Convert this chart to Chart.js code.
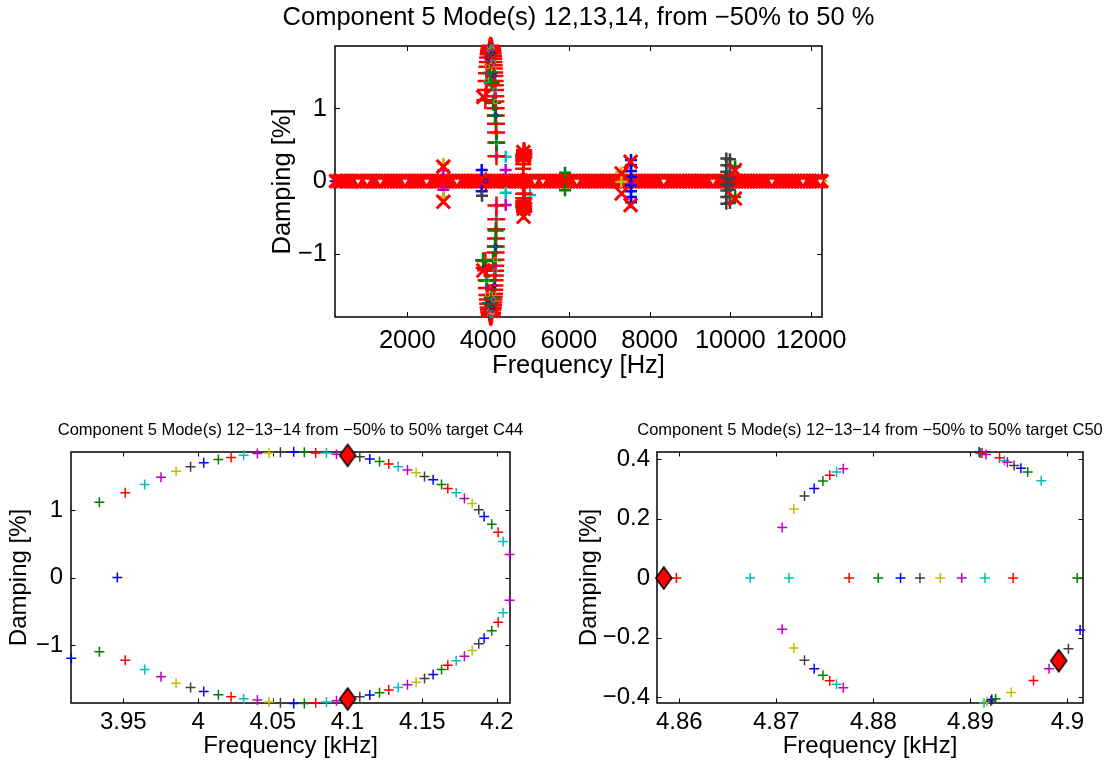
<!DOCTYPE html>
<html>
<head>
<meta charset="utf-8">
<script src="https://cdn.jsdelivr.net/npm/chart.js@4.4.1/dist/chart.umd.min.js"></script>
<style>
  html, body { margin: 0; padding: 0; background: #fff; }
  body { width: 1107px; height: 765px; position: relative; overflow: hidden; }
  canvas { position: absolute; }
</style>
</head>
<body>
<canvas id="topChart" width="700" height="400" style="left:200px;top:0px"></canvas>
<canvas id="c44Chart" width="545" height="355" style="left:0px;top:410px"></canvas>
<canvas id="c50Chart" width="547" height="355" style="left:560px;top:410px"></canvas>
<script>
// MATLAB default colour order: b g r c m y k
const colorCycle = ['#0000ff', '#008000', '#ff0000', '#00bfbf', '#bf00bf', '#bfbf00', '#404040'];

// ---- target C44 (kHz / %), one point per sweep step ----
const c44FreqUpper = [3.946, 3.934, 3.9513, 3.9643, 3.9752, 3.9853, 3.995, 4.0038, 4.0136, 4.0221,
  4.0305, 4.0397, 4.0475, 4.0551, 4.064, 4.0711, 4.0787, 4.0859, 4.0926, 4.1001,
  4.1082, 4.1149, 4.1214, 4.1276, 4.1339, 4.1401, 4.1459, 4.1515, 4.1573, 4.1629,
  4.1671, 4.1727, 4.1782, 4.1834, 4.1878, 4.1914, 4.1965, 4.2008, 4.2041, 4.2084];
const c44DampUpper = [0.0, 1.115, 1.255, 1.378, 1.486, 1.575, 1.64, 1.70, 1.748, 1.78,
  1.81, 1.837, 1.847, 1.856, 1.862, 1.856, 1.847, 1.847, 1.827, 1.818,
  1.788, 1.758, 1.719, 1.684, 1.64, 1.595, 1.551, 1.496, 1.447, 1.378,
  1.319, 1.255, 1.17, 1.096, 1.003, 0.904, 0.79, 0.671, 0.533, 0.341];
const c44FreqLower = [3.9152, 3.934, 3.9513, 3.9643, 3.9752, 3.9853, 3.995, 4.0038, 4.0136, 4.0221,
  4.0305, 4.0397, 4.0475, 4.0551, 4.064, 4.0711, 4.0787, 4.0859, 4.0926, 4.1001,
  4.1082, 4.1149, 4.1214, 4.1276, 4.1339, 4.1401, 4.1459, 4.1515, 4.1573, 4.1629,
  4.1671, 4.1727, 4.1782, 4.1834, 4.1878, 4.1914, 4.1965, 4.2008, 4.2041, 4.2084];
const c44DampLower = [-1.195, -1.10, -1.225, -1.363, -1.471, -1.566, -1.63, -1.689, -1.738, -1.768,
  -1.797, -1.817, -1.847, -1.857, -1.867, -1.867, -1.857, -1.847, -1.827, -1.81,
  -1.768, -1.743, -1.709, -1.669, -1.63, -1.59, -1.551, -1.496, -1.437, -1.363,
  -1.299, -1.235, -1.166, -1.081, -0.983, -0.899, -0.79, -0.662, -0.523, -0.336];
const c44TargetFreq = [4.1001, 4.1001];
const c44TargetDamp = [1.81, -1.80];

// ---- target C50 (kHz / %), step gives the colour ----
const c50Freq = [4.8597, 4.8673, 4.8713, 4.8775, 4.8805, 4.8828, 4.8848, 4.8869, 4.8891, 4.8915, 4.8944, 4.9010,
  4.8706, 4.8718, 4.8729, 4.8739, 4.8748, 4.8755, 4.8762, 4.8769,
  4.8706, 4.8718, 4.8729, 4.8739, 4.8748, 4.8755, 4.8762, 4.8769,
  4.8909, 4.8910, 4.8912, 4.8916, 4.8930, 4.8935, 4.8938, 4.8945, 4.8952, 4.8959, 4.8973,
  4.8914, 4.8917, 4.8921, 4.8922, 4.8926, 4.8942, 4.8965, 4.8981, 4.9001, 4.9013];
const c50Damp = [0, 0, 0, 0, 0, 0, 0, 0, 0, 0, 0, 0,
  0.170, 0.232, 0.276, 0.301, 0.326, 0.345, 0.356, 0.367,
  -0.172, -0.235, -0.276, -0.305, -0.327, -0.345, -0.357, -0.369,
  0.4235, 0.42, 0.42, 0.415, 0.404, 0.395, 0.389, 0.378, 0.369, 0.356, 0.327,
  -0.42, -0.415, -0.413, -0.408, -0.406, -0.385, -0.344, -0.305, -0.238, -0.175];
const c50Step = [2, 3, 3, 2, 1, 0, 6, 5, 4, 3, 2, 1,
  4, 5, 6, 0, 1, 2, 3, 4,
  4, 5, 6, 0, 1, 2, 3, 4,
  0, 1, 2, 4, 2, 3, 4, 6, 0, 1, 3,
  3, 5, 6, 0, 1, 5, 2, 4, 6, 0];
const c50TargetFreq = [4.8584, 4.8991];
const c50TargetDamp = [0, -0.278];

// ---- overview (Hz / %) ----
// undamped modes along the zero line
const topBandFreq = [240, 315, 395, 470, 540, 620, 700, 770, 845, 915, 990, 1065, 1140, 1220, 1300,
  1370, 1445, 1515, 1590, 1665, 1735, 1810, 1890, 1960, 2030, 2110, 2185, 2255, 2330, 2400, 2470,
  2550, 2625, 2700, 2770, 2840, 2905, 2985, 3060, 3135, 3210, 3280, 3350, 3420, 3495, 3570, 3650,
  3720, 3790, 3865, 3940, 4015, 4090, 4160, 4225, 4300, 4380, 4450, 4520, 4595, 4670, 4740, 4815,
  4890, 4960, 5035, 5110, 5180, 5255, 5330, 5400, 5470, 5545, 5620, 5690, 5765, 5840, 5910, 5985,
  6060, 6130, 6200, 6270, 6345, 6420, 6490, 6565, 6640, 6710, 6785, 6860, 6930, 7000, 7075, 7150,
  7225, 7295, 7370, 7440, 7510, 7585, 7660, 7730, 7805, 7880, 7950, 8025, 8100, 8170, 8245, 8315,
  8390, 8465, 8535, 8610, 8685, 8755, 8830, 8900, 8975, 9045, 9120, 9195, 9270, 9340, 9415, 9485,
  9560, 9630, 9705, 9780, 9855, 9925, 10000, 10070, 10145, 10215, 10290, 10360, 10435, 10510,
  10585, 10655, 10730, 10800, 10875, 10945, 11020, 11090, 11165, 11240, 11310, 11385, 11460,
  11530, 11605, 11675, 11750, 11820, 11895, 11970, 12045, 12115, 12185, 12250];
const topVeeFreq = [780, 1005, 1330, 1945, 2480, 3230, 5160, 5360, 6200, 8350, 9570, 11030, 11800, 12230];
const topPlusFreq = [215, 470, 620, 905, 1180, 1365, 1520, 1800, 2080, 2250, 2560, 2700, 3120, 3420,
  3580, 3760, 4470, 4610, 5020, 5230, 5470, 5760, 6050, 6330, 6480, 6640, 6930, 7080, 7220, 7660,
  7950, 8230, 8540, 8680, 8970, 9260, 9410, 9700, 10290, 10580, 10720, 11010, 11160, 11460, 11600,
  11890, 12040, 12270];
const topCrossFreq = [2893, 2893, 3884, 3884, 4874, 4874, 4880, 4880, 7309, 7309, 7530, 7530, 10113, 10113];
const topCrossDamp = [0.20, -0.285, 1.16, -1.23, 0.40, 0.34, -0.38, -0.49, 0.106, -0.17, 0.266, -0.33, 0.15, -0.24];
const topSideFreq = [2893, 2893, 2893, 2893, 3843, 3843, 3850, 4437, 4437, 4437, 4437, 5039, 5906, 5906,
  7300, 7300, 7540, 7540, 7540, 7540, 7540, 7540, 7540, 7540,
  9900, 9900, 9900, 9900, 9900, 9900, 9900, 9900, 9990, 9990, 9990, 9990, 9990, 9990, 9990, 9990, 10120, 10120];
const topSideDamp = [0.24, 0.15, -0.12, -0.22, 0.152, -0.138, -0.2, 0.335, -0.16, 0.152, -0.33, -0.19, 0.115, -0.124,
  0.12, -0.01, 0.29, 0.22, 0.14, 0.06, -0.06, -0.14, -0.22, -0.29,
  0.31, 0.22, 0.13, 0.05, -0.05, -0.13, -0.22, -0.31, 0.30, 0.21, 0.12, 0.04, -0.04, -0.12, -0.21, -0.30, 0.20, -0.22];
const topSideStep = [5, 4, 4, 5, 0, 0, 6, 3, 3, 4, 4, 3, 1, 1,
  5, 5, 0, 0, 0, 0, 0, 0, 0, 0,
  6, 6, 6, 6, 6, 6, 6, 6, 6, 6, 6, 6, 6, 6, 6, 6, 1, 1];
const topGreenFreq = [4049, 4091, 4124, 4173, 4215, 4190, 4173, 4124, 3876, 3970, 4091, 4049];
const topGreenDamp = [1.49, 1.35, 1.08, 0.90, 0.53, -0.68, -0.90, -1.09, -1.09, -1.37, -1.60, -1.68];

// ---- ticks ----
const topXTicks = [2000, 4000, 6000, 8000, 10000, 12000];
const topXLabels = ['2000', '4000', '6000', '8000', '10000', '12000'];
const topYTicks = [-1, 0, 1];
const topYLabels = ['\u22121', '0', '1'];
const c44XTicks = [3.95, 4, 4.05, 4.1, 4.15, 4.2];
const c44XLabels = ['3.95', '4', '4.05', '4.1', '4.15', '4.2'];
const c44YTicks = [-1, 0, 1];
const c44YLabels = ['\u22121', '0', '1'];
const c50XTicks = [4.86, 4.87, 4.88, 4.89, 4.9];
const c50XLabels = ['4.86', '4.87', '4.88', '4.89', '4.9'];
const c50YTicks = [-0.4, -0.2, 0, 0.2, 0.4];
const c50YLabels = ['\u22120.4', '\u22120.2', '0', '0.2', '0.4'];

const FONT = '"Liberation Sans", Arial, Helvetica, sans-serif';

// tall red diamond like MATLAB's 'd' marker
function makeDiamond(w, h) {
  const c = document.createElement('canvas');
  c.width = w + 4; c.height = h + 4;
  const g = c.getContext('2d');
  const cx = c.width / 2, cy = c.height / 2;
  g.beginPath();
  g.moveTo(cx, cy - h / 2);
  g.lineTo(cx + w / 2, cy);
  g.lineTo(cx, cy + h / 2);
  g.lineTo(cx - w / 2, cy);
  g.closePath();
  g.fillStyle = '#ff0000';
  g.fill();
  g.lineWidth = 1.5;
  g.strokeStyle = '#000';
  g.stroke();
  return c;
}
const diamond = makeDiamond(16, 22);

function scatterSet(xs, ys, style) {
  return Object.assign({
    data: xs.map((x, i) => ({ x: x, y: ys[i] })),
    showLine: false,
    clip: false,
    pointHoverRadius: 0
  }, style);
}

// box, inward ticks and title the MATLAB way
const matlabBox = {
  id: 'matlabBox',
  beforeDatasetsDraw(chart, args, opts) {
    const { ctx, chartArea: a, scales: { x, y } } = chart;
    ctx.save();
    ctx.strokeStyle = '#000';
    ctx.lineWidth = 1;
    ctx.beginPath();
    x.ticks.forEach(t => {
      const px = Math.round(x.getPixelForValue(t.value)) + 0.5;
      ctx.moveTo(px, a.bottom); ctx.lineTo(px, a.bottom - opts.tick);
      ctx.moveTo(px, a.top); ctx.lineTo(px, a.top + opts.tick);
    });
    y.ticks.forEach(t => {
      const py = Math.round(y.getPixelForValue(t.value)) + 0.5;
      ctx.moveTo(a.left, py); ctx.lineTo(a.left + opts.tick, py);
      ctx.moveTo(a.right, py); ctx.lineTo(a.right - opts.tick, py);
    });
    ctx.stroke();
    ctx.lineWidth = 1.5;
    ctx.strokeRect(a.left, a.top, a.right - a.left, a.bottom - a.top);
    ctx.restore();
  },
  afterDraw(chart, args, opts) {
    const { ctx, chartArea: a } = chart;
    ctx.save();
    ctx.font = opts.size + 'px ' + FONT;
    ctx.fillStyle = '#000';
    ctx.textAlign = 'center';
    ctx.textBaseline = 'middle';
    ctx.fillText(opts.text, (a.left + a.right) / 2, opts.y);
    ctx.restore();
  }
};

function buildOptions(cfg) {
  const tickFont = { family: FONT, size: cfg.fontSize, lineHeight: 1.2 };
  return {
    responsive: false,
    animation: false,
    devicePixelRatio: 1,
    events: [],
    layout: { padding: { top: cfg.padTop, right: cfg.padRight, left: 0, bottom: 0 } },
    plugins: {
      legend: { display: false },
      tooltip: { enabled: false },
      title: { display: false },
      matlabBox: { text: cfg.title, size: cfg.titleSize, y: cfg.titleY, tick: cfg.tickLen }
    },
    scales: {
      x: {
        type: 'linear',
        min: cfg.xMin, max: cfg.xMax,
        grid: { display: false, drawTicks: false },
        border: { display: false },
        afterBuildTicks: s => { s.ticks = cfg.xTicks.map(v => ({ value: v })); },
        afterFit: s => { s.height = cfg.xHeight; s.paddingLeft = 0; s.paddingRight = 0; },
        ticks: {
          autoSkip: false, maxRotation: 0, minRotation: 0,
          padding: cfg.xTickPad, color: '#000', font: tickFont,
          callback: (v, i) => cfg.xLabels[i]
        },
        title: {
          display: true, text: cfg.xTitle, color: '#000', font: tickFont,
          padding: { top: 0, bottom: cfg.xTitlePad }
        }
      },
      y: {
        type: 'linear',
        min: cfg.yMin, max: cfg.yMax,
        grid: { display: false, drawTicks: false },
        border: { display: false },
        afterBuildTicks: s => { s.ticks = cfg.yTicks.map(v => ({ value: v })); },
        afterFit: s => { s.width = cfg.yWidth; s.paddingTop = 0; s.paddingBottom = 0; },
        ticks: {
          autoSkip: false,
          padding: cfg.yTickPad, color: '#000', font: tickFont,
          callback: (v, i) => cfg.yLabels[i]
        },
        title: {
          display: true, text: 'Damping [%]', color: '#000', font: tickFont,
          padding: { top: cfg.yTitlePad, bottom: 0 }
        }
      }
    }
  };
}

function stackOrder(sets) {
  sets.forEach((d, i) => { d.order = -i; });
  return sets;
}

// ---------- overview ----------
const hz = f => f * 1000;
const topSets = stackOrder([
  scatterSet(topPlusFreq, topPlusFreq.map(() => 0), {
    pointStyle: 'cross', pointRadius: 5.5, pointBorderWidth: 2,
    pointBorderColor: topPlusFreq.map((_, i) => colorCycle[i % 7])
  }),
  scatterSet(topBandFreq, topBandFreq.map(() => 0), {
    pointStyle: 'crossRot', pointRadius: 9.5, pointBorderWidth: 3.5, pointBorderColor: '#ff0000'
  }),
  scatterSet(topVeeFreq, topVeeFreq.map(() => 0), {
    pointStyle: 'triangle', rotation: 180, pointRadius: 4.5, pointBorderWidth: 1.5,
    pointBorderColor: '#ff0000', pointBackgroundColor: '#ffffff'
  }),
  scatterSet(topSideFreq, topSideDamp, {
    pointStyle: 'cross', pointRadius: 6, pointBorderWidth: 2.5,
    pointBorderColor: topSideStep.map(s => colorCycle[s % 7])
  }),
  scatterSet(c44FreqUpper.map(hz), c44DampUpper, {
    pointStyle: 'cross', pointRadius: 9, pointBorderWidth: 2.5, pointBorderColor: '#ff0000'
  }),
  scatterSet(c44FreqLower.map(hz), c44DampLower, {
    pointStyle: 'cross', pointRadius: 9, pointBorderWidth: 2.5, pointBorderColor: '#ff0000'
  }),
  scatterSet(topGreenFreq, topGreenDamp, {
    pointStyle: 'cross', pointRadius: 8, pointBorderWidth: 2.5, pointBorderColor: '#008000'
  }),
  scatterSet(c44FreqUpper.map(hz).concat(c44FreqLower.map(hz)), c44DampUpper.concat(c44DampLower), {
    pointStyle: 'circle', pointRadius: 2.2, pointBorderWidth: 1,
    pointBorderColor: c44FreqUpper.concat(c44FreqLower).map((_, i) => colorCycle[(i % 40) % 7]),
    pointBackgroundColor: 'rgba(0,0,0,0)'
  }),
  scatterSet(c50Freq.map(hz), c50Damp, {
    pointStyle: 'cross', pointRadius: 8, pointBorderWidth: 2.5, pointBorderColor: '#ff0000'
  }),
  scatterSet(topCrossFreq, topCrossDamp, {
    pointStyle: 'crossRot', pointRadius: 9.5, pointBorderWidth: 3, pointBorderColor: '#ff0000'
  })
]);

new Chart(document.getElementById('topChart'), {
  type: 'scatter',
  data: { datasets: topSets },
  options: buildOptions({
    title: 'Component 5 Mode(s) 12,13,14, from \u221250% to 50 %', titleSize: 25.5, titleY: 18,
    fontSize: 25.5, padTop: 46, padRight: 78, xHeight: 83, yWidth: 135, tickLen: 5,
    xMin: 210, xMax: 12270, yMin: -1.87, yMax: 1.86,
    xTicks: topXTicks, xLabels: topXLabels, yTicks: topYTicks, yLabels: topYLabels,
    xTitle: 'Frequency [Hz]', xTickPad: 9, xTitlePad: 19, yTickPad: 8, yTitlePad: 68
  }),
  plugins: [matlabBox]
});

// ---------- target C44 ----------
new Chart(document.getElementById('c44Chart'), {
  type: 'scatter',
  data: {
    datasets: stackOrder([
      scatterSet(c44FreqUpper, c44DampUpper, {
        pointStyle: 'cross', pointRadius: 5, pointBorderWidth: 1.5,
        pointBorderColor: c44FreqUpper.map((_, i) => colorCycle[i % 7])
      }),
      scatterSet(c44FreqLower, c44DampLower, {
        pointStyle: 'cross', pointRadius: 5, pointBorderWidth: 1.5,
        pointBorderColor: c44FreqLower.map((_, i) => colorCycle[i % 7])
      }),
      scatterSet(c44TargetFreq, c44TargetDamp, { pointStyle: diamond })
    ])
  },
  options: buildOptions({
    title: 'Component 5 Mode(s) 12\u221213\u221214 from \u221250% to 50% target C44', titleSize: 16.5, titleY: 20,
    fontSize: 24, padTop: 42, padRight: 35, xHeight: 62, yWidth: 71, tickLen: 4.5,
    xMin: 3.915, xMax: 4.2087, yMin: -1.86, yMax: 1.86,
    xTicks: c44XTicks, xLabels: c44XLabels, yTicks: c44YTicks, yLabels: c44YLabels,
    xTitle: 'Frequency [kHz]', xTickPad: 5, xTitlePad: 4, yTickPad: 8, yTitlePad: 5
  }),
  plugins: [matlabBox]
});

// ---------- target C50 ----------
new Chart(document.getElementById('c50Chart'), {
  type: 'scatter',
  data: {
    datasets: stackOrder([
      scatterSet(c50Freq, c50Damp, {
        pointStyle: 'cross', pointRadius: 5, pointBorderWidth: 1.5,
        pointBorderColor: c50Step.map(s => colorCycle[s % 7])
      }),
      scatterSet(c50TargetFreq, c50TargetDamp, { pointStyle: diamond })
    ])
  },
  options: buildOptions({
    title: 'Component 5 Mode(s) 12\u221213\u221214 from \u221250% to 50% target C50', titleSize: 16.5, titleY: 20,
    fontSize: 24, padTop: 42, padRight: 24, xHeight: 62, yWidth: 97, tickLen: 4.5,
    xMin: 4.8577, xMax: 4.9016, yMin: -0.42, yMax: 0.4235,
    xTicks: c50XTicks, xLabels: c50XLabels, yTicks: c50YTicks, yLabels: c50YLabels,
    xTitle: 'Frequency [kHz]', xTickPad: 5, xTitlePad: 4, yTickPad: 7, yTitlePad: 15
  }),
  plugins: [matlabBox]
});
</script>
</body>
</html>
